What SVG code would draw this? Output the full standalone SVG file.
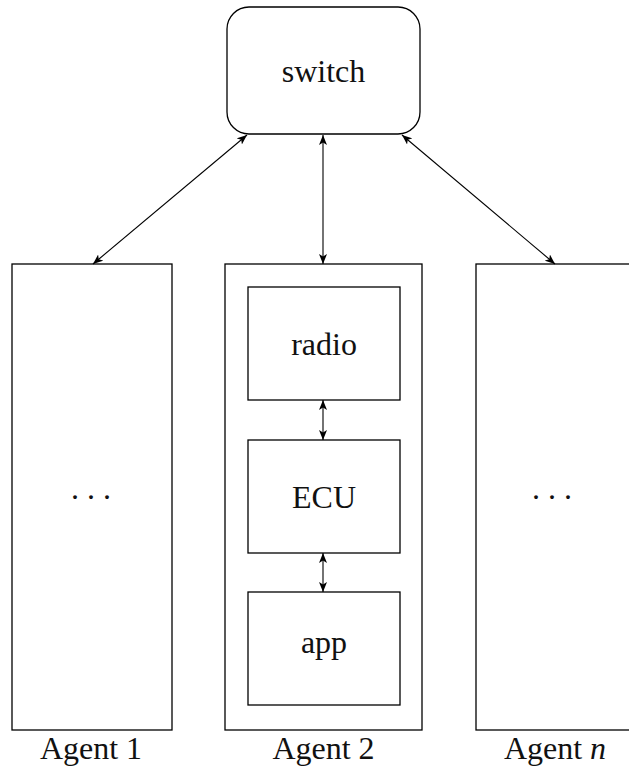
<svg xmlns="http://www.w3.org/2000/svg" width="629" height="770" viewBox="0 0 629 770">
  <style>
    .box { fill: #fff; stroke: #000; stroke-width: 1.3; }
    .lbl { font-family: "Liberation Serif", "DejaVu Serif", serif; font-size: 32px; fill: #111; text-anchor: middle; }
    .edge { stroke: #000; stroke-width: 1.1; fill: none; marker-start: url(#tip); marker-end: url(#tip); }
  </style>
  <defs>
    <marker id="tip" viewBox="0 0 10 8" refX="10" refY="4" markerWidth="10" markerHeight="8" markerUnits="userSpaceOnUse" orient="auto-start-reverse">
      <path d="M0,0 L10,4 L0,8 L2.5,4 Z" fill="#000"/>
    </marker>
  </defs>

  <g id="switch">
    <rect class="box" x="227" y="7" width="193" height="127" rx="22" ry="22"/>
    <text class="lbl" x="323.5" y="82">switch</text>
  </g>

  <g id="agent1">
    <rect class="box" x="12" y="264" width="160" height="466"/>
    <text class="lbl" x="91" y="499">. . .</text>
    <text class="lbl" x="91" y="759">Agent 1</text>
  </g>

  <g id="agent2">
    <rect class="box" x="225" y="264" width="197" height="466"/>
    <text class="lbl" x="323.5" y="759">Agent 2</text>
  </g>

  <g id="radio">
    <rect class="box" x="248" y="287" width="152" height="113"/>
    <text class="lbl" x="324" y="355">radio</text>
  </g>

  <g id="ecu">
    <rect class="box" x="248" y="440" width="152" height="113"/>
    <text class="lbl" x="324" y="508">ECU</text>
  </g>

  <g id="app">
    <rect class="box" x="248" y="592" width="152" height="113"/>
    <text class="lbl" x="324" y="653">app</text>
  </g>

  <g id="agentn">
    <rect class="box" x="476" y="264" width="170" height="466"/>
    <text class="lbl" x="552" y="499">. . .</text>
    <text class="lbl" x="555" y="759">Agent <tspan font-style="italic">n</tspan></text>
  </g>

  <g id="connectors">
    <line class="edge" x1="247" y1="135" x2="93" y2="264"/>
    <line class="edge" x1="323" y1="135" x2="323" y2="264"/>
    <line class="edge" x1="402" y1="135" x2="555" y2="264"/>
    <line class="edge" x1="323" y1="400" x2="323" y2="440"/>
    <line class="edge" x1="323" y1="553" x2="323" y2="592"/>
  </g>
</svg>
